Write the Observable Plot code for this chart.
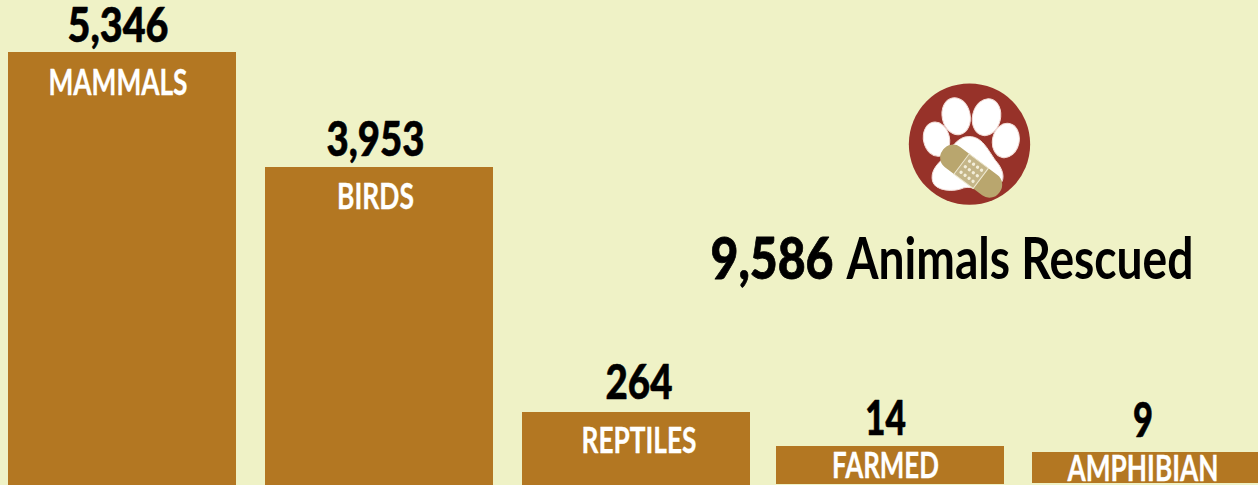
<!DOCTYPE html>
<html>
<head>
<meta charset="utf-8">
<style>
html,body{margin:0;padding:0;background:#eff2c6;overflow:hidden}
svg{display:block}
</style>
<script src="https://cdn.jsdelivr.net/npm/d3@7"></script>
<script src="https://cdn.jsdelivr.net/npm/@observablehq/plot@0.6"></script>
</head>
<body>
<div id="chart"></div>
<script>
const categories = ["MAMMALS", "BIRDS", "REPTILES", "FARMED", "AMPHIBIAN"];
const rescued = [5346, 3953, 264, 14, 9];
const headline = "Animals Rescued";

const rows = categories.map((category, i) => ({category, value: rescued[i]}));
const fmt = d3.format(",");
const FONT = "Lato,'Open Sans',sans-serif";

const paw = `<svg xmlns="http://www.w3.org/2000/svg" viewBox="0 0 540 450" width="180" height="150">
<circle cx="267" cy="221" r="182" fill="#973229"/>
<g fill="#fff" stroke="#f3dcd6" stroke-width="3">
<ellipse cx="227" cy="137" rx="42" ry="56" transform="rotate(-12 227 137)"/>
<ellipse cx="318" cy="140" rx="42" ry="56" transform="rotate(13 318 140)"/>
<ellipse cx="168" cy="206" rx="39" ry="52" transform="rotate(-12 168 206)"/>
<ellipse cx="376" cy="210" rx="40" ry="52" transform="rotate(12 376 210)"/>
<path d="M265 198C232 198 212 232 188 264C165 285 150 305 156 332C164 362 220 366 250 352C275 345 310 368 345 352C378 336 372 300 345 270C320 235 305 198 265 198Z"/>
</g>
<g transform="translate(272 302) rotate(37)">
<rect x="-106" y="-38" width="212" height="76" rx="36" fill="#b9a66e"/>
<rect x="-36" y="-38" width="72" height="76" fill="#c4b588" stroke="#efe9d2" stroke-width="3"/>
<g fill="#f3eeda">
<circle cx="-22" cy="-21" r="5"/><circle cx="-7" cy="-21" r="5"/><circle cx="8" cy="-21" r="5"/><circle cx="23" cy="-21" r="5"/>
<circle cx="-22" cy="0" r="5"/><circle cx="-7" cy="0" r="5"/><circle cx="8" cy="0" r="5"/><circle cx="23" cy="0" r="5"/>
<circle cx="-22" cy="21" r="5"/><circle cx="-7" cy="21" r="5"/><circle cx="8" cy="21" r="5"/><circle cx="23" cy="21" r="5"/>
</g>
</g>
</svg>`;

function group(name, {barDx = 0, trim = 0, dx, valueDy, labelDy}) {
  const d = rows.filter(r => r.category === name);
  return [
    Plot.barY(d, {x: "category", y: "value", fill: "#b37722", dx: barDx, insetBottom: trim}),
    Plot.text(d, {x: "category", y: "value", text: r => fmt(r.value), dx, dy: valueDy,
      fontFamily: FONT, fontWeight: 900, fontSize: 48, fill: "#000", stroke: "#000", strokeWidth: 0.6}),
    Plot.text(d, {x: "category", y: "value", text: "category", dx, dy: labelDy,
      fontFamily: FONT, fontWeight: 700, fontSize: 36, fill: "#fff", stroke: "#fff", strokeWidth: 0.3})
  ];
}

const plot = Plot.plot({
  width: 1258,
  height: 485,
  margin: 0,
  style: {background: "#eff2c6"},
  x: {type: "band", domain: categories, range: [8, 1260], paddingInner: 0.1094, paddingOuter: 0, align: 0, axis: null},
  y: {type: "linear", domain: [0, 9, 14, 264, 3953, 5346], range: [485, 452, 446, 412, 167, 52], axis: null},
  marks: [
    group("MAMMALS",   {dx: -4.5, valueDy: -25.5, labelDy: 30.5}),
    group("BIRDS",     {barDx: 1, dx: -3, valueDy: -27, labelDy: 29.5}),
    group("REPTILES",  {barDx: 2, dx: 4.5, valueDy: -29, labelDy: 29}),
    group("FARMED",    {trim: 1, dx: -5, valueDy: -26.5, labelDy: 20}),
    group("AMPHIBIAN", {trim: 2, dx: -3.5, valueDy: -30.5, labelDy: 16.5}),
    Plot.image([0], {src: "data:image/svg+xml," + encodeURIComponent(paw), frameAnchor: "top-left",
      dx: 970, dy: 145, width: 180, height: 150}),
    Plot.text([fmt(d3.sum(rescued))], {frameAnchor: "top-left", dx: 710, dy: 260, textAnchor: "start", lineAnchor: "middle",
      fontFamily: FONT, fontWeight: 900, fontSize: 58, fill: "#000", stroke: "#000", strokeWidth: 0.8}),
    Plot.text([headline], {frameAnchor: "top-left", dx: 846, dy: 260, textAnchor: "start", lineAnchor: "middle",
      fontFamily: FONT, fontWeight: 700, fontSize: 58, fill: "#000"})
  ]
});

document.getElementById("chart").append(plot);

// The reference's lettering is condensed: squeeze each text horizontally to its width there.
const targetWidths = {"5,346": 101, "3,953": 98, "264": 67, "14": 41, "9": 20,
  MAMMALS: 139, BIRDS: 77, REPTILES: 115, FARMED: 107, AMPHIBIAN: 151,
  "9,586": 123, "Animals Rescued": 347};
d3.select(plot).selectAll("text").each(function () {
  const w = targetWidths[this.textContent];
  if (!w) return;
  const sx = w / this.getComputedTextLength();
  const t = this.getAttribute("transform") || "";
  this.setAttribute("transform", `${t} scale(${sx},1)`.trim());
});
</script>
</body>
</html>
